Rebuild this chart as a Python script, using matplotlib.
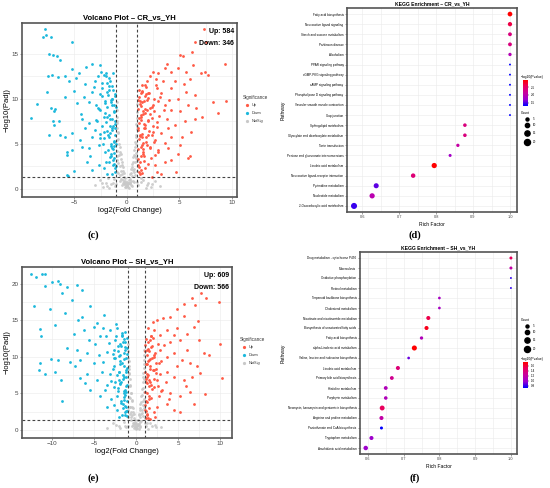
import numpy as np
import matplotlib
matplotlib.use("Agg")
import matplotlib.pyplot as plt
from matplotlib.colors import LinearSegmentedColormap, Normalize

plt.rcParams["font.family"] = ["Liberation Sans", "DejaVu Sans"]

# ---- volcano CR_vs_YH ----
cr_up_x = [7.37, 6.48, 7.59, 5.05, 5.37, 6.25, 3.87, 7.43, 9.33, 9.49, 8.70, 8.22, 7.75, 7.11, 6.32, 5.68,
           4.89, 4.25, 3.62, 2.98, 2.51, 2.19, 1.71, 1.40, 2.03, 2.83, 3.30, 4.25, 4.89, 5.68, 6.48, 5.84,
           5.05, 4.25, 3.62, 2.98, 2.35, 1.71, 1.24, 1.33, 2.03, 2.83, 3.78, 4.57, 5.52, 6.48, 6.16, 5.21,
           4.25, 3.30, 2.51, 1.71, 1.24, 1.40, 2.19, 2.98, 3.94, 4.89, 6.00, 5.84, 3.62, 2.67, 1.71, 1.24,
           2.35, 4.73, 3.30, 1.1, 1.3, 1.5, 1.2, 1.6, 1.1, 1.4, 1.8, 1.1, 1.3, 1.6, 1.05, 1.2, 1.9, 2.2,
           2.5, 1.7, 1.3, 2.6, 2.0, 1.5, 2.3, 1.15, 1.45, 2.8, 1.9, 3.4, 3.1, 3.6, 2.7, 4.0, 4.6, 5.4,
           6.6, 7.2, 6.0, 4.2, 3.9, 5.1, 2.9]
cr_up_y = [17.7, 16.3, 16.3, 14.9, 14.7, 15.2, 13.9, 13.0, 13.9, 9.7, 8.4, 9.6, 12.6, 12.8, 13.7, 13.0,
           13.4, 13.0, 13.4, 12.8, 13.0, 12.5, 11.5, 10.8, 10.6, 11.2, 10.6, 11.2, 10.0, 10.8, 10.4, 9.3,
           8.6, 8.7, 9.3, 9.7, 9.1, 8.9, 9.7, 8.2, 7.6, 7.4, 7.8, 7.1, 7.5, 7.8, 6.3, 5.8,
           5.8, 6.2, 6.3, 6.7, 6.0, 4.9, 4.5, 4.3, 4.5, 3.9, 3.7, 3.4, 3.0, 2.6, 2.3, 1.7,
           1.3, 1.9, 1.7, 9.9, 9.2, 8.6, 7.9, 7.2, 6.5, 5.7, 5.2, 4.4, 3.6, 3.1, 2.6, 1.9, 9.9, 8.3,
           7.0, 10.3, 10.6, 10.0, 6.0, 4.1, 3.4, 11.0, 11.5, 12.2, 12.0, 12.0, 8.1, 5.1, 5.4, 9.9, 12.0, 11.6,
           9.0, 8.0, 12.2, 3.2, 6.8, 4.9, 1.9]
cr_up_dense_x = [1.05, 1.1, 1.15, 1.2, 1.25, 1.3, 1.35, 1.4, 1.45, 1.5, 1.55, 1.6, 1.7, 1.8, 1.9, 2.0,
                 2.1, 2.2, 2.4, 2.6, 1.08, 1.18, 1.28, 1.38, 1.48, 1.58, 1.68, 1.78, 1.88, 1.98, 2.15,
                 2.35, 2.55, 2.75, 2.95, 1.12, 1.22, 1.32, 1.42, 1.52, 1.62, 1.72, 1.82, 2.05, 2.25,
                 2.45, 2.65, 2.85, 3.2, 3.5]
cr_up_dense_y = [8.9, 6.8, 10.2, 5.5, 9.4, 4.7, 7.6, 10.9, 6.1, 8.3, 3.9, 9.8, 7.1, 5.8, 8.7, 10.1,
                 6.4, 9.0, 7.9, 5.2, 3.3, 7.3, 5.9, 8.0, 9.6, 4.4, 6.7, 11.3, 4.9, 7.5, 10.6,
                 6.0, 8.6, 11.5, 4.1, 2.4, 3.0, 2.1, 1.8, 5.1, 3.6, 8.4, 10.5, 2.8, 4.7,
                 9.3, 3.8, 6.9, 10.2, 8.8]
cr_down_x = [-5.94, -5.24, -4.83, -3.90, -3.33, -2.54, -5.56, -5.08, -5.87, -4.76, -4.13, -3.33, -3.97, -3.02,
             -2.44, -2.22, -1.90, -2.38, -1.68, -1.43, -1.27, -1.90, -2.70, -2.06, -1.59, -1.11, -1.43, -2.22,
             -2.86, -3.65, -4.29, -3.97, -3.33, -2.54, -1.75, -1.27, -1.43, -2.06, -2.70, -3.65, -4.29, -4.44,
             -5.24, -5.87, -6.35, -6.51, -6.98, -5.71, -5.24, -3.49, -2.70, -2.22, -1.90, -1.43, -3.33, -5.71,
             -1.75, -1.27, -1.11, -1.2, -1.5, -1.8, -2.1, -1.3, -1.6, -2.4, -1.1, -1.9, -2.6, -1.4, -2.9,
             -1.2, -1.6, -1.05, -2.3, -3.0, -1.7, -2.0, -1.3, -3.1, -2.8, -1.1, -1.5, -2.0, -1.2, -3.6,
             -4.6, -4.4, -3.8, -7.84, -8.03, -7.7, -7.27, -5.27, -7.46, -7.02, -6.71, -6.33, -7.14, -7.59,
             -8.54, -9.11, -7.2, -6.95, -7.01, -6.57, -7.5, -6.9, -7.4, -5.7, -5.6, -5.0]
cr_down_y = [12.5, 13.3, 12.3, 13.5, 13.8, 13.7, 12.0, 10.9, 10.2, 9.5, 10.2, 10.8, 11.6, 12.0,
             13.0, 12.6, 11.7, 11.2, 11.0, 10.0, 9.3, 9.1, 8.9, 8.4, 7.8, 7.5, 6.7, 6.3,
             7.5, 7.3, 7.8, 6.7, 5.8, 5.6, 5.8, 5.2, 4.5, 4.1, 4.9, 4.5, 4.7, 5.4,
             6.2, 5.8, 6.0, 7.5, 7.1, 4.1, 4.3, 3.6, 2.6, 2.3, 1.7, 1.7, 2.1, 1.5,
             3.0, 3.4, 2.3, 8.5, 9.6, 10.4, 9.8, 7.0, 6.2, 7.0, 6.0, 8.0, 10.5, 11.4, 9.3,
             4.0, 3.5, 5.0, 5.0, 6.5, 12.3, 12.9, 12.8, 11.3, 12.5, 10.3, 4.8, 3.0, 2.8, 9.6,
             12.9, 8.3, 3.0, 17.7, 16.9, 17.1, 16.9, 16.3, 15.0, 14.9, 14.7, 14.3, 12.6, 10.8,
             9.4, 7.9, 9.0, 8.6, 7.5, 12.4, 12.5, 8.9, 6.0, 3.8, 1.4, 2.0]
cr_down_dense_x = [-1.05, -1.1, -1.15, -1.2, -1.25, -1.3, -1.35, -1.4, -1.45, -1.5, -1.55, -1.6, -1.7,
                   -1.8, -1.9, -2.0, -2.1, -2.2, -2.4, -2.6, -1.08, -1.18, -1.28, -1.38, -1.48, -1.58,
                   -1.68, -1.78, -1.88, -1.98, -2.15, -2.35, -2.55, -2.75, -2.95, -1.12, -1.22, -1.32,
                   -1.42, -1.52]
cr_down_dense_y = [9.1, 7.2, 10.5, 5.3, 8.6, 4.4, 11.0, 7.8, 6.5, 9.9, 3.6, 12.0, 8.2,
                   6.0, 10.8, 7.4, 9.5, 5.6, 11.8, 8.8, 2.5, 6.8, 3.2, 9.3, 5.0, 7.0,
                   11.4, 4.3, 6.4, 12.5, 8.0, 10.3, 6.1, 9.0, 7.6, 1.9, 4.8, 2.7,
                   10.0, 3.9]
cr_ns_x = [-0.95, -0.9, -0.85, -0.8, -0.7, -0.6, -0.5, -0.4, -0.3, -0.2, -0.1, 0.0, 0.1, 0.2, 0.3, 0.4,
           0.5, 0.6, 0.7, 0.8, 0.85, 0.9, 0.95, -0.98, 0.97, -0.9, -0.95, -0.75, 0.75, 0.9, 0.95, -0.6,
           0.6, -0.4, 0.4, -0.8, 0.8, -0.9, 0.9, -0.2, 0.2, 0.0, -2.6, -2.0, -1.5, -1.2, -1.8, -1.1,
           1.1, 1.5, 2.0, 2.7, 1.3, -0.5, 0.5, -3.0, 3.2, 2.3, -2.3, -0.7, 0.7, -0.3, 0.3, 1.8,
           -1.7, -0.95, 0.95, -0.95, 0.95]
cr_ns_y = [8.8, 7.5, 6.3, 5.5, 4.6, 3.9, 3.0, 2.4, 1.8, 1.2, 0.6, 0.3, 0.5, 1.0, 1.6, 2.2,
           2.8, 3.5, 4.3, 5.2, 6.0, 7.2, 8.5, 9.6, 9.4, 6.8, 5.4, 3.8, 3.6, 5.0, 6.6, 2.0,
           2.1, 1.0, 0.9, 2.9, 3.0, 4.2, 4.0, 0.2, 0.1, 0.8, 1.0, 0.7, 0.5, 1.1, 1.2, 0.3,
           0.4, 1.0, 0.6, 0.9, 1.2, 0.4, 0.3, 0.4, 0.3, 0.2, 0.2, 0.9, 0.8, 0.5, 0.7, 0.1,
           0.1, 1.9, 2.0, 3.2, 3.1]
ns_dense_x = [-0.05, 0.05, -0.15, 0.15, -0.25, 0.25, -0.35, 0.35, -0.45, 0.45, -0.55, 0.55, -0.65, 0.65,
              -0.75, 0.75, -0.85, 0.85, -0.92, 0.92, -0.97, 0.97, -0.1, 0.1, -0.3, 0.3, -0.5, 0.5, -0.7,
              0.7, -0.9, 0.9, -0.8, 0.8, -0.6, 0.6, -0.4, 0.4, -0.2, 0.2, -1.3, 1.3, -1.9, 1.9, -2.4,
              2.4, -1.0, 1.0, -0.65, 0.65]
cr_ns_dense_y = [0.2, 0.4, 0.9, 0.7, 1.3, 1.1, 2.0, 1.8, 2.6, 2.4, 3.3, 3.0, 4.1, 3.8,
                 5.0, 4.7, 6.2, 5.8, 7.3, 7.0, 8.0, 7.9, 0.3, 0.2, 0.8, 0.6, 1.6, 1.4, 2.5,
                 2.2, 3.6, 3.4, 1.8, 1.5, 1.1, 0.9, 0.6, 0.4, 0.5, 0.6, 0.6, 0.8, 0.3, 0.4, 0.6,
                 0.5, 0.5, 0.8, 1.5, 1.9]

# ---- volcano SH_vs_YH ----
sh_up_x = [7.70, 8.29, 6.63, 9.84, 7.02, 5.64, 4.84, 4.05, 3.14, 2.46, 10.0, 10.2, 8.21, 8.02, 8.61, 7.42,
           6.83, 6.03, 5.24, 4.44, 3.65, 2.86, 2.06, 1.67, 1.27, 1.47, 2.06, 2.86, 3.65, 4.44, 5.44, 6.43,
           7.22, 7.62, 6.63, 5.64, 4.44, 3.65, 2.86, 2.06, 1.27, 1.27, 2.06, 3.06, 4.05, 5.24, 6.43, 6.83,
           4.44, 3.65, 2.46, 1.47, 1.27, 2.26, 5.24, 1.1, 1.3, 1.6, 1.2, 1.5, 1.1, 1.8, 1.3, 1.05, 1.2,
           1.9, 2.3, 2.5, 1.7, 1.4, 2.0, 3.0, 3.3, 2.7, 3.5, 4.0, 4.8, 5.7, 6.1, 7.4, 4.9, 5.9, 3.9, 2.1, 1.6]
sh_up_y = [18.7, 18.1, 18.1, 17.5, 17.1, 17.3, 16.6, 15.5, 15.3, 15.0, 11.8, 7.1, 4.9, 10.5, 10.3, 12.3,
           14.1, 13.2, 12.3, 13.0, 13.7, 13.0, 13.7, 12.3, 11.0, 9.6, 10.3, 11.0, 10.0, 10.5, 9.6, 9.1,
           8.7, 7.8, 7.3, 6.8, 7.3, 8.0, 7.7, 8.2, 7.7, 6.4, 5.9, 5.5, 5.0, 4.6, 5.2, 3.6,
           2.7, 3.6, 3.2, 3.0, 2.1, 1.8, 2.5, 10.8, 9.0, 8.4, 7.0, 6.0, 5.2, 4.4, 3.8, 2.8, 1.6,
           11.5, 9.2, 6.8, 12.9, 14.0, 14.8, 9.4, 11.6, 4.6, 6.5, 12.0, 14.0, 15.6, 11.0, 14.9, 8.7, 6.0, 4.2, 2.4, 1.5]
sh_up_dense_x = [1.05, 1.1, 1.15, 1.2, 1.25, 1.3, 1.35, 1.4, 1.45, 1.5, 1.55, 1.6, 1.7, 1.8, 1.9, 2.0,
                 2.1, 2.2, 2.4, 2.6, 1.08, 1.18, 1.28, 1.38, 1.48, 1.58, 1.68, 1.78, 1.88, 1.98, 2.15,
                 2.35, 2.55, 2.75, 2.95, 1.12, 1.22, 1.32, 1.42, 1.52]
sh_up_dense_y = [11.6, 8.0, 12.5, 6.6, 10.2, 5.0, 9.4, 12.0, 7.5, 10.8, 4.2, 8.8, 11.3, 6.2, 9.9, 12.6,
                 7.0, 10.5, 8.4, 6.0, 3.4, 9.0, 7.2, 11.1, 4.7, 9.7, 6.5, 12.9, 5.6, 8.2, 10.0,
                 7.8, 11.8, 9.2, 5.3, 2.6, 3.9, 2.2, 1.7, 6.9]
sh_down_x = [-12.54, -11.9, -11.23, -10.83, -10.04, -10.91, -9.36, -9.05, -8.25, -7.06, -6.51, -12.14, -10.24,
             -11.43, -11.39, -10.12, -9.36, -11.5, -11.63, -10.91, -9.64, -8.85, -8.45, -7.66, -8.85, -9.64,
             -8.25, -7.06, -7.26, -6.67, -6.07, -5.48, -4.29, -3.49, -2.30, -1.71, -5.67, -6.47, -5.48, -4.68,
             -3.89, -3.10, -2.30, -2.5, -1.71, -1.31, -1.90, -2.70, -3.49, -4.48, -5.08, -4.09, -3.10, -2.10,
             -1.43, -1.19, -1.90, -2.70, -3.69, -4.68, -5.87, -1.31, -1.51, -2.30, -1.19, -2.70, -1.31, -7.46,
             -6.27, -5.08, -4.29, -6.67, -7.86, -9.0, -1.1, -1.4, -1.8, -2.2, -1.2, -1.6, -2.0, -1.1, -1.5,
             -2.5, -1.9, -2.8, -3.2, -1.3, -2.6, -3.6, -1.05, -1.8, -2.2, -3.0, -1.2, -2.0, -4.0, -3.5, -1.7,
             -2.4, -4.9, -5.9, -3.9, -6.9]
sh_down_y = [21.3, 20.9, 21.3, 21.3, 20.3, 19.7, 20.4, 20.0, 19.6, 19.8, 19.2, 17.0, 16.6,
             13.8, 12.8, 9.7, 9.6, 9.2, 8.2, 7.6, 8.0, 3.9, 16.0, 17.8, 18.7, 14.4,
             11.2, 11.0, 8.7, 7.1, 6.4, 5.5, 4.6, 3.2, 2.7, 2.1, 12.3, 15.5, 16.9, 14.6,
             15.7, 13.7, 13.9, 12.3, 12.8, 11.4, 10.2, 9.8, 10.7, 10.3, 9.1, 8.0, 7.7, 8.0,
             8.7, 7.3, 6.4, 5.9, 5.5, 6.8, 7.7, 5.5, 4.1, 4.6, 3.2, 3.4, 2.1, 13.2,
             13.7, 14.1, 12.8, 9.6, 9.3, 6.9, 10.4, 9.7, 11.5, 10.8, 8.2, 7.5, 6.9, 6.2, 5.0,
             6.5, 9.0, 8.4, 11.9, 12.0, 11.0, 12.9, 4.0, 3.7, 5.4, 4.3, 2.6, 1.8, 9.3, 6.2, 13.3,
             14.5, 11.8, 10.5, 14.0, 15.0]
sh_down_dense_x = [-1.05, -1.1, -1.15, -1.2, -1.25, -1.3, -1.35, -1.4, -1.45, -1.5, -1.55, -1.6, -1.7,
                   -1.8, -1.9, -2.0, -2.1, -2.2, -2.4, -2.6, -1.08, -1.18, -1.28, -1.38, -1.48, -1.58,
                   -1.68, -1.78, -1.88, -1.98, -2.15, -2.35, -2.55, -2.75, -2.95, -1.12, -1.22, -1.32,
                   -1.42, -1.52]
sh_down_dense_y = [11.2, 8.5, 12.6, 6.0, 9.8, 4.8, 13.4, 7.3, 10.6, 5.4, 3.5, 12.1, 9.2,
                   6.6, 11.8, 7.9, 10.1, 5.8, 12.8, 8.7, 2.6, 8.0, 3.3, 10.9, 4.5, 7.0,
                   13.0, 4.0, 6.3, 9.5, 11.5, 7.5, 9.8, 10.4, 6.7, 1.9, 5.2, 2.4,
                   12.4, 3.0]
sh_ns_x = [-0.95, -0.9, -0.85, -0.8, -0.7, -0.6, -0.5, -0.4, -0.3, -0.2, -0.1, 0.0, 0.1, 0.2, 0.3, 0.4,
           0.5, 0.6, 0.7, 0.8, 0.85, 0.9, 0.95, -0.98, 0.97, -0.9, -0.95, -0.75, 0.75, 0.9, 0.95, -0.6,
           0.6, -0.4, 0.4, -0.8, 0.8, -0.3, 0.3, 0.0, -2.8, -2.0, -1.5, -1.2, 1.2, 1.6, 2.2, 3.0,
           -3.5, 1.4, -1.0, 1.0, -0.95, 0.95, -0.5, 0.5]
sh_ns_y = [10.8, 9.5, 8.3, 7.0, 6.0, 5.0, 4.0, 3.0, 2.2, 1.4, 0.8, 0.3, 0.7, 1.3, 2.0, 2.8,
           3.6, 4.6, 5.6, 6.6, 7.8, 9.0, 10.2, 11.8, 11.0, 7.8, 6.0, 4.4, 4.0, 5.2, 7.0, 2.4,
           2.2, 1.0, 1.1, 3.2, 3.4, 0.3, 0.2, 1.0, 1.0, 0.6, 1.1, 0.4, 0.5, 1.0, 0.7, 0.4,
           0.3, 0.2, 1.8, 1.6, 2.8, 3.0, 0.5, 0.4]
sh_ns_dense_y = [0.2, 0.5, 1.0, 0.8, 1.6, 1.4, 2.4, 2.2, 3.2, 3.0, 4.1, 3.8, 5.1, 4.8,
                 6.2, 5.8, 7.7, 7.3, 8.8, 8.5, 9.8, 9.6, 0.4, 0.3, 1.0, 0.8, 2.0, 1.8, 3.1,
                 2.8, 4.5, 4.2, 2.2, 1.9, 1.4, 1.2, 0.7, 0.5, 0.6, 0.7, 0.6, 0.9, 0.3, 0.5, 0.7,
                 0.4, 0.6, 0.9, 1.8, 2.3]

# ---- KEGG CR_vs_YH ----
cr_path = ["Fatty acid biosynthesis", "Neuroactive ligand signaling", "Starch and sucrose metabolism",
           "Parkinson disease", "Alcoholism", "PPAR signaling pathway", "cGMP-PKG signaling pathway",
           "cAMP signaling pathway", "Phospholipase D signaling pathway", "Vascular smooth muscle contraction",
           "Gap junction", "Sphingolipid metabolism", "Glyoxylate and dicarboxylate metabolism",
           "Taste transduction", "Pentose and glucuronate interconversions", "Linoleic acid metabolism",
           "Neuroactive ligand-receptor interaction", "Pyrimidine metabolism", "Nucleotide metabolism",
           "2-Oxocarboxylic acid metabolism"]
cr_rich = [1.0, 1.0, 1.0, 1.0, 1.0, 1.0, 1.0, 1.0, 1.0, 1.0, 1.0, 0.878, 0.878, 0.859, 0.838,
           0.795, 0.738, 0.638, 0.627, 0.578]
cr_count = [12, 10, 8, 8, 6, 2, 2, 2, 2, 2, 2, 7, 7, 6, 5, 15, 11, 14, 15, 20]
cr_logp = [2.95, 2.65, 2.35, 2.35, 1.95, 1.3, 1.3, 1.3, 1.3, 1.3, 1.3, 2.35, 2.35, 2.1, 1.8,
           2.95, 2.4, 1.55, 2.0, 1.45]

# ---- KEGG SH_vs_YH ----
sh_path = ["Drug metabolism - cytochrome P450", "Tuberculosis", "Oxidative phosphorylation",
           "Retinol metabolism", "Terpenoid backbone biosynthesis", "Cholesterol metabolism",
           "Nicotinate and nicotinamide metabolism", "Biosynthesis of unsaturated fatty acids",
           "Fatty acid biosynthesis", "alpha-Linolenic acid metabolism",
           "Valine, leucine and isoleucine biosynthesis", "Linoleic acid metabolism",
           "Primary bile acid biosynthesis", "Histidine metabolism", "Porphyrin metabolism",
           "Neomycin, kanamycin and gentamicin biosynthesis", "Arginine and proline metabolism",
           "Pantothenate and CoA biosynthesis", "Tryptophan metabolism", "Arachidonic acid metabolism"]
sh_rich = [1.0, 1.0, 1.0, 1.0, 0.8, 0.8, 0.769, 0.764, 0.75, 0.73, 0.714, 0.684, 0.667, 0.65, 0.65,
           0.64, 0.638, 0.638, 0.61, 0.594]
sh_count = [5, 5, 2, 2, 4, 4, 9, 9, 6, 14, 4, 9, 8, 8, 7, 13, 9, 5, 9, 11]
sh_logp = [1.5, 1.2, 0.8, 0.8, 1.05, 1.05, 1.55, 1.68, 1.1, 1.75, 0.9, 1.4, 1.3, 1.1, 1.1,
           1.5, 1.2, 0.72, 1.0, 1.0]

UP_COL = "#ff5a45"
DOWN_COL = "#1cb8dc"
NS_COL = "#c8c8c8"
FRAME = "#555555"

cmap = LinearSegmentedColormap.from_list(
    "kegg", ["#0000ff", "#9a00d0", "#c800a0", "#e80060", "#ff0000"])


def px_axes(fig, left, top, right, bottom):
    W, H = 550.0, 488.0
    return fig.add_axes([left / W, 1 - bottom / H, (right - left) / W, (bottom - top) / H])


def style_frame(ax):
    for sp in ax.spines.values():
        sp.set_color(FRAME)
        sp.set_linewidth(1.2)
    ax.grid(True, which="both", color="#ebebeb", lw=0.4)
    ax.set_axisbelow(True)
    ax.tick_params(length=1.5, width=0.4, color="#555555", pad=1)


def draw_volcano(ax, up, down, ns, title, n_up, n_down, xlim, ylim, xticks, yticks):
    style_frame(ax)
    ax.scatter(ns[0], ns[1], s=4, color=NS_COL, lw=0, alpha=0.9)
    ax.scatter(down[0], down[1], s=4, color=DOWN_COL, lw=0)
    ax.scatter(up[0], up[1], s=4, color=UP_COL, lw=0)
    ax.axvline(-1, color="#444444", ls=(0, (2.5, 2)), lw=0.8)
    ax.axvline(1, color="#444444", ls=(0, (2.5, 2)), lw=0.8)
    ax.axhline(-np.log10(0.05), color="#444444", ls=(0, (2.5, 2)), lw=0.8)
    ax.set_xlim(*xlim)
    ax.set_ylim(*ylim)
    ax.set_xticks(xticks)
    ax.set_yticks(yticks)
    ax.set_xticks([(a + b) / 2 for a, b in zip(xticks[:-1], xticks[1:])], minor=True)
    ax.set_yticks([(a + b) / 2 for a, b in zip(yticks[:-1], yticks[1:])], minor=True)
    ax.tick_params(which="minor", length=0)
    ax.tick_params(labelsize=4.5, labelcolor="#444444")
    ax.set_xticklabels([str(t).replace("-", "\u2212") for t in xticks])
    ax.set_title(title, fontsize=5.5, fontweight="bold", pad=3)
    ax.set_xlabel("log2(Fold Change)", fontsize=5.5, labelpad=1)
    ax.set_ylabel("\u2212log10(Padj)", fontsize=5.5, labelpad=1)
    ax.text(0.985, 0.97, "Up: %d" % n_up, transform=ax.transAxes, ha="right", va="top",
            fontsize=5, fontweight="bold")
    ax.text(0.985, 0.90, "Down: %d" % n_down, transform=ax.transAxes, ha="right", va="top",
            fontsize=5, fontweight="bold")


def volcano_legend(fig, x, y):
    W, H = 550.0, 488.0
    fig.text(x / W, 1 - y / H, "Significance", fontsize=3.3, va="center", color="#333333")
    for i, (lab, col) in enumerate([("Up", UP_COL), ("Down", DOWN_COL), ("NotSig", NS_COL)]):
        yy = 1 - (y + 8 + 8 * i) / H
        fig.lines.append(plt.Line2D([(x + 4) / W], [yy], marker="o", ms=1.3, color=col, lw=0,
                                    transform=fig.transFigure))
        fig.text((x + 9) / W, yy, lab, fontsize=2.8, va="center", color="#333333")


def draw_kegg(fig, ax, paths, rich, count, logp, title, xlim, vmin, vmax):
    style_frame(ax)
    n = len(paths)
    ys = np.arange(n)[::-1]
    norm = Normalize(vmin=vmin, vmax=vmax)
    ax.scatter(rich, ys, s=[c * 0.95 for c in count], c=logp, cmap=cmap, norm=norm, lw=0)
    ax.set_yticks(ys)
    ax.set_yticklabels(paths, fontsize=2.2)
    ax.set_ylim(-0.6, n - 0.4)
    ax.set_xlim(*xlim)
    ax.set_xticks([0.6, 0.7, 0.8, 0.9, 1.0])
    ax.set_xticks([0.65, 0.75, 0.85, 0.95], minor=True)
    ax.tick_params(which="minor", length=0)
    ax.tick_params(axis="x", labelsize=2.8, labelcolor="#444444")
    ax.set_title(title, fontsize=3.6, fontweight="bold", pad=2)
    ax.set_xlabel("Rich Factor", fontsize=3.6, labelpad=1.5)
    return norm


def kegg_legends(fig, norm, cb_top, cnt_top, cticks):
    W, H = 550.0, 488.0
    cax = fig.add_axes([523 / W, 1 - (cb_top + 26) / H, 5 / W, 26 / H])
    cb = fig.colorbar(plt.cm.ScalarMappable(norm=norm, cmap=cmap), cax=cax)
    cb.set_ticks(cticks)
    cb.ax.tick_params(labelsize=2.2, length=1, width=0.3, pad=1)
    cb.outline.set_visible(False)
    fig.text(521 / W, 1 - (cb_top - 3) / H, "\u2212log10(Pvalue)", fontsize=2.4, va="center")
    fig.text(521 / W, 1 - cnt_top / H, "Count", fontsize=2.4, va="center")
    offs = [6, 12, 20, 29]
    for c, o in zip([5, 10, 15, 20], offs):
        yy = 1 - (cnt_top + o) / H
        fig.lines.append(plt.Line2D([527 / W], [yy], marker="o", ms=np.sqrt(c * 0.95), color="black",
                                    lw=0, transform=fig.transFigure))
        fig.text(533 / W, yy, str(c), fontsize=2.2, va="center")


fig = plt.figure(figsize=(5.5, 4.88), dpi=100)

ax_c = px_axes(fig, 22, 23, 237, 197)
draw_volcano(ax_c,
             (cr_up_x + cr_up_dense_x, cr_up_y + cr_up_dense_y),
             (cr_down_x + cr_down_dense_x, cr_down_y + cr_down_dense_y),
             (cr_ns_x + ns_dense_x, cr_ns_y + cr_ns_dense_y),
             "Volcano Plot \u2013 CR_vs_YH", 584, 346, (-10.0, 10.5), (-0.9, 18.4),
             [-5, 0, 5, 10], [0, 5, 10, 15])
volcano_legend(fig, 243, 97)

ax_e = px_axes(fig, 22, 267, 232, 438)
draw_volcano(ax_e,
             (sh_up_x + sh_up_dense_x, sh_up_y + sh_up_dense_y),
             (sh_down_x + sh_down_dense_x, sh_down_y + sh_down_dense_y),
             (sh_ns_x + ns_dense_x, sh_ns_y + sh_ns_dense_y),
             "Volcano Plot \u2013 SH_vs_YH", 609, 566, (-13.6, 11.4), (-1.1, 22.3),
             [-10, -5, 0, 5, 10], [0, 5, 10, 15, 20])
volcano_legend(fig, 240, 339)

ax_d = px_axes(fig, 347, 8, 517, 212)
norm_d = draw_kegg(fig, ax_d, cr_path, cr_rich, cr_count, cr_logp,
                   "KEGG Enrichment \u2013 CR_vs_YH", (0.559, 1.019), 1.3, 2.95)
kegg_legends(fig, norm_d, 80, 113, [1.5, 2.0, 2.5])
fig.text(283 / 550, 1 - 110 / 488, "Pathway", rotation=90, fontsize=3.6, va="center", ha="center")

ax_f = px_axes(fig, 360, 252, 517, 454)
norm_f = draw_kegg(fig, ax_f, sh_path, sh_rich, sh_count, sh_logp,
                   "KEGG Enrichment \u2013 SH_vs_YH", (0.578, 1.017), 0.72, 1.75)
kegg_legends(fig, norm_f, 362, 320, [0.8, 1.0, 1.2, 1.4, 1.6])
fig.text(283 / 550, 1 - 353 / 488, "Pathway", rotation=90, fontsize=3.6, va="center", ha="center")

for lab, x, y in [("(c)", 93, 235), ("(d)", 415, 235), ("(e)", 93, 478), ("(f)", 415, 478)]:
    fig.text(x / 550, 1 - y / 488, lab, fontsize=7.5, fontweight="bold",
             family=["Liberation Serif", "DejaVu Serif"], ha="center", va="center")

fig.savefig("out.png", dpi=100)
